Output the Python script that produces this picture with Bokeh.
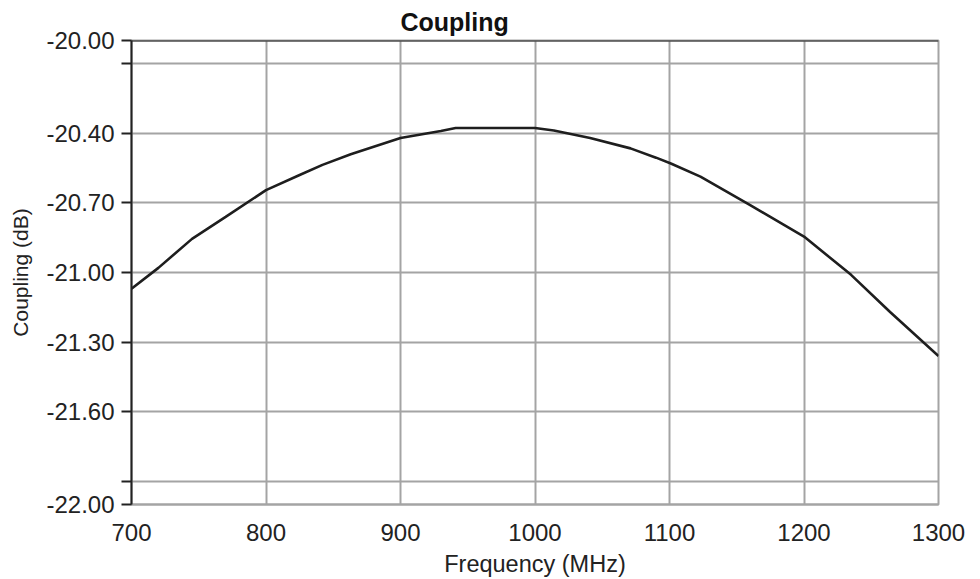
from bokeh.plotting import figure
from bokeh.models import FixedTicker, CustomJSTickFormatter, Range1d, Span, Title
from bokeh.embed import file_html
from bokeh.resources import INLINE

# Data
freq_mhz = [700, 720, 745, 770, 800, 825, 842, 863, 900, 930, 941, 970, 1000,
            1014, 1041, 1071, 1090, 1101, 1123, 1160, 1200, 1235, 1264, 1300]
coupling_db = [-21.07, -20.98, -20.855, -20.76, -20.645, -20.58, -20.536, -20.49,
               -20.42, -20.39, -20.377, -20.377, -20.377, -20.388, -20.42, -20.465,
               -20.505, -20.53, -20.587, -20.71, -20.845, -21.01, -21.17, -21.36]
x_ticks = [700, 800, 900, 1000, 1100, 1200, 1300]
y_ticks = [-22.0, -21.9, -21.6, -21.3, -21.0, -20.7, -20.4, -20.1, -20.0]
unlabeled_y = [-21.9, -20.1]

FONT = "Liberation Sans"
GRID = "#a4a4a4"

p = figure(width=980, height=579, output_backend="svg", toolbar_location=None,
           x_range=Range1d(700, 1300), y_range=Range1d(-22.0, -20.0),
           min_border_left=131, min_border_right=42, min_border_top=40,
           min_border_bottom=75, background_fill_color="white",
           border_fill_color="white", outline_line_color=GRID, outline_line_width=2)

t = Title(text="Coupling", align="left", offset=269, text_font=FONT,
          text_font_size="25px", text_font_style="bold", text_color="#111111",
          standoff=10)
p.add_layout(t, "above")

p.line(freq_mhz, coupling_db, line_color="#1e1e1e", line_width=2.6)

# axes
p.xaxis.ticker = FixedTicker(ticks=x_ticks)
p.yaxis.ticker = FixedTicker(ticks=y_ticks)
p.yaxis.formatter = CustomJSTickFormatter(args=dict(skip=unlabeled_y), code="""
for (const s of skip) { if (Math.abs(tick - s) < 1e-6) return ""; }
return tick.toFixed(2);
""")

p.xaxis.axis_label = "Frequency (MHz)"
p.yaxis.axis_label = "Coupling (dB)"
for ax in (p.xaxis, p.yaxis):
    ax.major_label_text_font = FONT
    ax.major_label_text_font_size = "24px"
    ax.major_label_text_color = "#222222"
    ax.axis_label_text_font = FONT
    ax.axis_label_text_font_style = "normal"
    ax.axis_label_text_color = "#222222"
    ax.minor_tick_line_color = None

p.xaxis.axis_label_text_font_size = "23.5px"
p.yaxis.axis_label_text_font_size = "21px"

p.xaxis.axis_line_color = GRID
p.xaxis.axis_line_width = 2
p.xaxis.major_tick_line_color = None
p.xaxis.major_tick_out = 0
p.xaxis.major_tick_in = 0
p.xaxis.major_label_standoff = 19
p.xaxis.axis_label_standoff = 7

p.yaxis.axis_line_color = "#222222"
p.yaxis.axis_line_width = 2
p.yaxis.major_tick_line_color = "#222222"
p.yaxis.major_tick_line_width = 2
p.yaxis.major_tick_out = 10
p.yaxis.major_tick_in = 0
p.yaxis.major_label_standoff = 7
p.yaxis.axis_label_standoff = 11

p.grid.grid_line_color = GRID
p.grid.grid_line_width = 2

# dark top border of the frame
p.add_layout(Span(location=-20.0, dimension="width", line_color="#222222", line_width=2))

open("out.html", "w").write(file_html(p, INLINE))
